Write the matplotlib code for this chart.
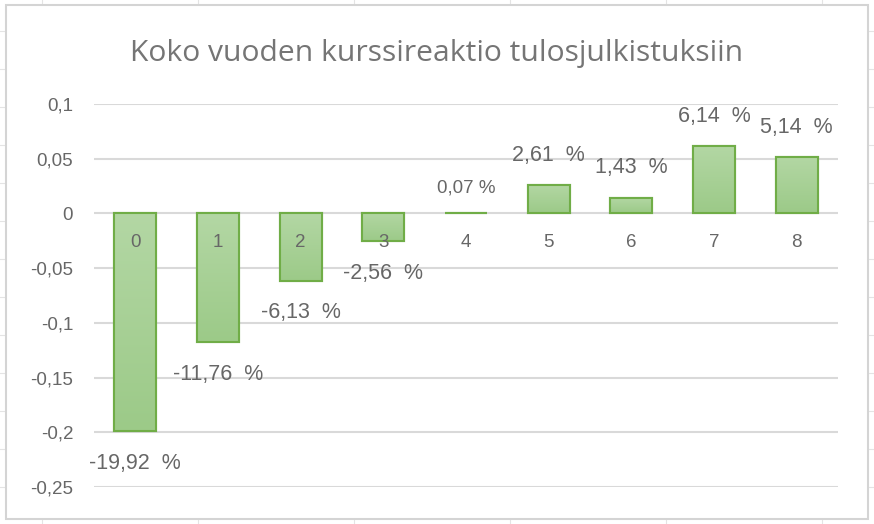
import numpy as np
import matplotlib.pyplot as plt
from matplotlib.patches import Rectangle
from matplotlib.colors import LinearSegmentedColormap

categories = ['0', '1', '2', '3', '4', '5', '6', '7', '8']
values = [-0.1992, -0.1176, -0.0613, -0.0256, 0.0007, 0.0261, 0.0143, 0.0614, 0.0514]
labels = ['-19,92  %', '-11,76  %', '-6,13  %', '-2,56  %', '0,07 %',
          '2,61  %', '1,43  %', '6,14  %', '5,14  %']
yticks = [-0.25, -0.2, -0.15, -0.1, -0.05, 0, 0.05, 0.1]
ytick_labels = ['-0,25', '-0,2', '-0,15', '-0,1', '-0,05', '0', '0,05', '0,1']
title = 'Koko vuoden kurssireaktio tulosjulkistuksiin'

grey = '#676767'
grid_c = '#d9d9d9'
edge_c = '#70ad47'

fig = plt.figure(figsize=(8.74, 5.24), dpi=100)

# spreadsheet cell lines behind the chart object
for xp in range(42, 874, 156):
    fig.add_artist(plt.Line2D([xp / 874, xp / 874], [0, 1], color='#e4e4e4', lw=0.8, zorder=-3))
for yp in range(31, 524, 38):
    fig.add_artist(plt.Line2D([0, 1], [1 - yp / 524, 1 - yp / 524], color='#e4e4e4', lw=0.8, zorder=-3))
fig.add_artist(Rectangle((6 / 874, 5 / 524), 862 / 874, 514 / 524, transform=fig.transFigure,
                         facecolor='white', edgecolor='#d4d4d4', lw=1.5, zorder=-2))

ax = fig.add_axes([94 / 874, 37 / 524, 744 / 874, 383 / 524])
ax.set_facecolor('none')
x = np.arange(len(categories))
bars = ax.bar(x, values, width=0.51, facecolor='#a8d197', edgecolor=edge_c, lw=1.5, zorder=3)

cmap = LinearSegmentedColormap.from_list('g', ['#b3d7a4', '#9cca88'])
grad = np.linspace(0, 1, 100).reshape(-1, 1)
for b, v in zip(bars, values):
    x0 = b.get_x()
    w = b.get_width()
    if v >= 0:
        ext = [x0, x0 + w, 0, v]
    else:
        ext = [x0, x0 + w, v, 0]
    im = ax.imshow(grad, cmap=cmap, extent=ext, aspect='auto', origin='upper', zorder=3.5)
    im.set_clip_path(b)
    ax.add_patch(Rectangle((x0, min(0, v)), w, abs(v), facecolor='none',
                           edgecolor=edge_c, lw=1.5, zorder=4))

ax.set_xlim(-0.5, len(categories) - 0.5)
ax.set_ylim(-0.25, 0.1)
ax.set_yticks(yticks)
ax.set_yticklabels(ytick_labels, family='Liberation Sans', fontsize=13.5, color=grey)
ax.tick_params(axis='y', length=0, pad=15)
ax.set_xticks([])
for s in ax.spines.values():
    s.set_visible(False)
for t in yticks:
    ax.axhline(t, color=grid_c, lw=1.5, zorder=1)

for xi, c in zip(x, categories):
    ax.annotate(c, (xi, 0), xytext=(0, -21), textcoords='offset points', ha='center',
                va='center', fontsize=13.5, color=grey, family='Liberation Sans', zorder=6)

for xi, v, lab in zip(x, values, labels):
    if v < 0:
        off, fs = -23, 15.5
    elif abs(v) < 0.005:
        off, fs = 18, 13.5
    else:
        off, fs = 21.5, 15.5
    ax.annotate(lab, (xi, v), xytext=(0, off), textcoords='offset points', ha='center',
                va='center', fontsize=fs, color=grey, family='Liberation Sans', zorder=6)

fig.text(437 / 874, 1 - 53 / 524, title, ha='center', va='center', fontsize=21.6,
         color='#757575', family='Open Sans')

fig.savefig('out.png', dpi=100)
